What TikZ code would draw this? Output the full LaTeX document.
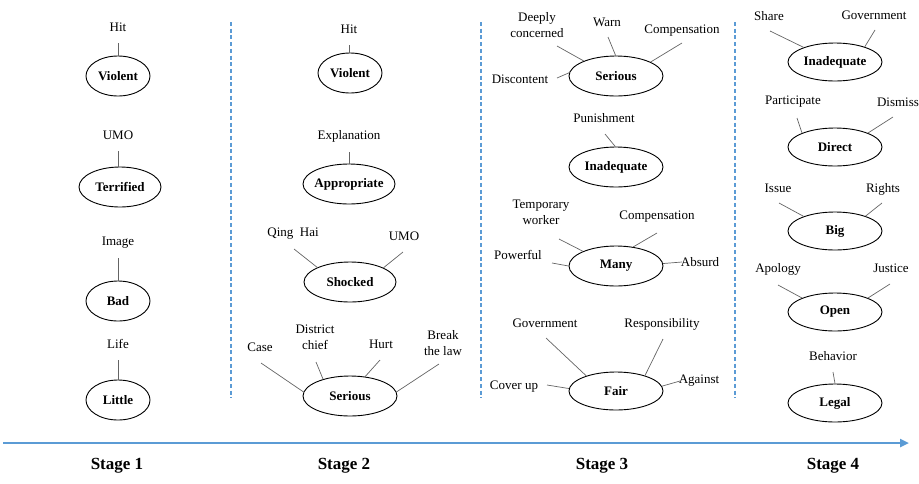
\documentclass[tikz,border=0pt]{standalone}
\usepackage{fontspec}
\setmainfont{Liberation Serif}
\usetikzlibrary{shapes.geometric,arrows.meta}
\definecolor{axisblue}{RGB}{91,155,213}
\definecolor{linkgray}{RGB}{100,100,100}
% keep the ellipse size independent of the word inside it
\newcommand\ctrword[1]{\makebox[0pt]{#1}}

\begin{document}
\begin{tikzpicture}[x=1pt,y=-1pt,
  word/.style={font=\fontsize{13}{16}\selectfont, inner sep=0pt, align=center},
  emo/.style={ellipse, draw, line width=0.9pt, inner sep=0pt,
              minimum width=94pt, minimum height=40pt,
              font=\fontsize{13}{16}\selectfont\bfseries},
  narrow/.style={minimum width=64pt},
  link/.style={draw=linkgray, line width=0.7pt},
  divider/.style={draw=axisblue, line width=1.2pt, dash pattern=on 4pt off 2.7pt},
  stagelbl/.style={font=\fontsize{17}{20}\selectfont\bfseries, inner sep=0pt}]

\useasboundingbox (0,0) rectangle (919,483);

% ---------- column dividers ----------
\coordinate (d1t) at (231,22);  \coordinate (d1b) at (231,398);
\coordinate (d2t) at (481,22);  \coordinate (d2b) at (481,398);
\coordinate (d3t) at (735,22);  \coordinate (d3b) at (735,398);
\draw[divider] (d1t) -- (d1b);
\draw[divider] (d2t) -- (d2b);
\draw[divider] (d3t) -- (d3b);

% ---------- time axis ----------
\coordinate (axL) at (3,443);
\coordinate (axR) at (909,443);
\draw[draw=axisblue, line width=2.4pt,
      -{Triangle[length=9pt,width=8pt,fill=axisblue]}] (axL) -- (axR);

\node[stagelbl] (st1) at (117,466) {Stage 1};
\node[stagelbl] (st2) at (344,466) {Stage 2};
\node[stagelbl] (st3) at (602,466) {Stage 3};
\node[stagelbl] (st4) at (833,466) {Stage 4};

% ---------- stage 1 ----------
\node[emo,narrow] (a1) at (118,76)  {\ctrword{Violent}};
\node[emo,minimum width=82pt] (a2) at (120,187) {\ctrword{Terrified}};
\node[emo,narrow] (a3) at (118,301) {\ctrword{Bad}};
\node[emo,narrow] (a4) at (118,400) {\ctrword{Little}};

\node[word] (a1w) at (118,27)  {Hit};
\node[word] (a2w) at (118,135) {UMO};
\node[word] (a3w) at (118,243) {Image};
\node[word] (a4w) at (118,344) {Life};

\draw[link] ([shift={(0,16)}]a1w.center) -- (a1w |- a1.north);
\draw[link] ([shift={(0,16)}]a2w.center) -- (a2w |- a2.north);
\draw[link] ([shift={(0,15)}]a3w.center) -- (a3w |- a3.north);
\draw[link] ([shift={(0,16)}]a4w.center) -- (a4w |- a4.north);

% ---------- stage 2 ----------
\node[emo,narrow] (b1) at (350,73)  {\ctrword{Violent}};
\node[emo,minimum width=92pt] (b2) at (349,184) {\ctrword{Appropriate}};
\node[emo,minimum width=92pt] (b3) at (350,282) {\ctrword{Shocked}};
\node[emo] (b4) at (350,396) {\ctrword{Serious}};

\node[word] (b1w) at (349,29)  {Hit};
\node[word] (b2w) at (349,136) {Explanation};
\node[word] (b3w) at (293,234) {Qing\ \ Hai};
\node[word] (b3x) at (404,236) {UMO};
\node[word] (b4w) at (260,347) {Case};
\node[word] (b4x) at (315,337) {District\\chief};
\node[word] (b4y) at (381,344) {Hurt};
\node[word] (b4z) at (443,343) {Break\\the law};

\draw[link] ([shift={(0,16)}]b1w.center) -- (b1w |- b1.north);
\draw[link] ([shift={(0,16)}]b2w.center) -- (b2w |- b2.north);
\draw[link] ([shift={(1,15)}]b3w.center) -- (b3.156);
\draw[link] ([shift={(-1,16)}]b3x.center) -- (b3.23);
\draw[link] ([shift={(1,16)}]b4w.center) -- (b4.175);
\draw[link] ([shift={(1,25)}]b4x.center) -- (b4.148);
\draw[link] ([shift={(-1,16)}]b4y.center) -- (b4.52);
\draw[link] ([shift={(-4,21)}]b4z.center) -- (b4.5);

% ---------- stage 3 ----------
\node[emo] (c1) at (616,76)  {\ctrword{Serious}};
\node[emo] (c2) at (616,167) {\ctrword{Inadequate}};
\node[emo] (c3) at (616,266) {\ctrword{Many}};
\node[emo,minimum height=38pt] (c4) at (616,391) {\ctrword{Fair}};

\node[word] (c1w) at (537,25)  {Deeply\\concerned};
\node[word] (c1x) at (607,22)  {Warn};
\node[word] (c1y) at (682,31)  {Compensation};
\node[word] (c1z) at (520,79)  {Discontent};
\node[word] (c2w) at (604,118) {Punishment};
\node[word] (c3w) at (541,212) {Temporary\\worker};
\node[word] (c3x) at (657,217) {Compensation};
\node[word] (c3y) at (518,255) {Powerful};
\node[word] (c3z) at (700,262) {Absurd};
\node[word] (c4w) at (545,323) {Government};
\node[word] (c4x) at (662,324) {Responsibility};
\node[word] (c4y) at (514,387) {Cover up};
\node[word] (c4z) at (699,381) {Against};

\draw[link] ([shift={(20,21)}]c1w.center) -- (c1.155);
\draw[link] ([shift={(1,15)}]c1x.center) -- (c1.91);
\draw[link] ([shift={(0,12)}]c1y.center) -- (c1.22);
\draw[link] ([shift={(37,-1)}]c1z.center) -- (c1.176);
\draw[link] ([shift={(1,16)}]c2w.center) -- (c2.92);
\draw[link] ([shift={(18,27)}]c3w.center) -- (c3.156);
\draw[link] ([shift={(0,16)}]c3x.center) -- (c3.48);
\draw[link] ([shift={(34,8)}]c3y.center) -- (c3.180);
\draw[link] ([shift={(-18,0)}]c3z.center) -- (c3.3);
\draw[link] ([shift={(1,15)}]c4w.center) -- (c4.153);
\draw[link] ([shift={(1,15)}]c4x.center) -- (c4.28);
\draw[link] ([shift={(33,-2)}]c4y.center) -- (c4.177);
\draw[link] ([shift={(-19,0)}]c4z.center) -- (c4.6);

% ---------- stage 4 ----------
\node[emo,minimum height=38pt] (e1) at (835,62)  {\ctrword{Inadequate}};
\node[emo,minimum height=38pt] (e2) at (835,147) {\ctrword{Direct}};
\node[emo,minimum height=38pt] (e3) at (835,231) {\ctrword{Big}};
\node[emo,minimum height=38pt] (e4) at (835,312) {\ctrword{Open}};
\node[emo,minimum height=38pt] (e5) at (835,403) {\ctrword{Legal}};

\node[word] (e1w) at (769,16)  {Share};
\node[word] (e1x) at (874,15)  {Government};
\node[word] (e2w) at (793,102) {Participate};
\node[word] (e2x) at (898,102) {Dismiss};
\node[word] (e3w) at (778,188) {Issue};
\node[word] (e3x) at (883,189) {Rights};
\node[word] (e4w) at (778,269) {Apology};
\node[word] (e4x) at (891,268) {Justice};
\node[word] (e5w) at (833,356) {Behavior};

\draw[link] ([shift={(1,15)}]e1w.center) -- (e1.155);
\draw[link] ([shift={(1,15)}]e1x.center) -- (e1.27);
\draw[link] ([shift={(4,16)}]e2w.center) -- (e2.157);
\draw[link] ([shift={(-5,15)}]e2x.center) -- (e2.23);
\draw[link] ([shift={(1,15)}]e3w.center) -- (e3.155);
\draw[link] ([shift={(-1,14)}]e3x.center) -- (e3.26);
\draw[link] ([shift={(0,16)}]e4w.center) -- (e4.157);
\draw[link] ([shift={(-1,16)}]e4x.center) -- (e4.23);
\draw[link] ([shift={(0,16)}]e5w.center) -- (e5.north);

\end{tikzpicture}
\end{document}
